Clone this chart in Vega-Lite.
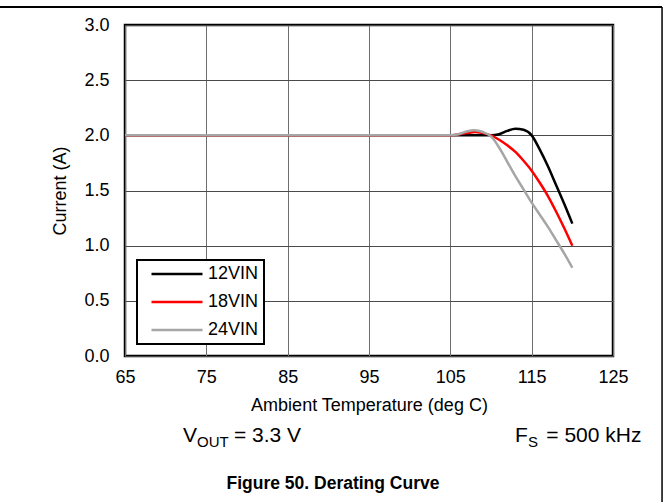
{
  "$schema": "https://vega.github.io/schema/vega-lite/v6.json",
  "width": 488,
  "height": 331,
  "autosize": {"type": "none"},
  "padding": {"left": 125, "top": 25, "right": 56, "bottom": 146},
  "background": "white",
  "config": {
    "font": "Liberation Sans",
    "view": {"stroke": "#000000", "strokeWidth": 2.5},
    "axis": {"labelFont": "Liberation Sans", "titleFont": "Liberation Sans", "labelColor": "#000", "titleColor": "#000", "titleFontWeight": "normal"},
    "legend": {"strokeWidth": 2}
  },
  "datasets": {
    "curves": [
      {"temp": 65, "current": 2.0, "series": "12VIN"},
      {"temp": 105, "current": 2.0, "series": "12VIN"},
      {"temp": 110, "current": 2.0, "series": "12VIN"},
      {"temp": 111, "current": 2.01, "series": "12VIN"},
      {"temp": 112, "current": 2.04, "series": "12VIN"},
      {"temp": 113, "current": 2.06, "series": "12VIN"},
      {"temp": 114, "current": 2.05, "series": "12VIN"},
      {"temp": 115, "current": 2.0, "series": "12VIN"},
      {"temp": 116, "current": 1.87, "series": "12VIN"},
      {"temp": 117, "current": 1.72, "series": "12VIN"},
      {"temp": 118, "current": 1.55, "series": "12VIN"},
      {"temp": 119, "current": 1.38, "series": "12VIN"},
      {"temp": 120, "current": 1.2, "series": "12VIN"},
      {"temp": 65, "current": 2.0, "series": "18VIN"},
      {"temp": 105, "current": 2.0, "series": "18VIN"},
      {"temp": 106, "current": 2.01, "series": "18VIN"},
      {"temp": 107, "current": 2.02, "series": "18VIN"},
      {"temp": 108, "current": 2.03, "series": "18VIN"},
      {"temp": 109, "current": 2.02, "series": "18VIN"},
      {"temp": 110, "current": 2.0, "series": "18VIN"},
      {"temp": 111, "current": 1.96, "series": "18VIN"},
      {"temp": 112, "current": 1.91, "series": "18VIN"},
      {"temp": 113, "current": 1.85, "series": "18VIN"},
      {"temp": 114, "current": 1.77, "series": "18VIN"},
      {"temp": 115, "current": 1.68, "series": "18VIN"},
      {"temp": 116, "current": 1.57, "series": "18VIN"},
      {"temp": 117, "current": 1.45, "series": "18VIN"},
      {"temp": 118, "current": 1.31, "series": "18VIN"},
      {"temp": 119, "current": 1.16, "series": "18VIN"},
      {"temp": 120, "current": 1.0, "series": "18VIN"},
      {"temp": 65, "current": 2.0, "series": "24VIN"},
      {"temp": 105, "current": 2.0, "series": "24VIN"},
      {"temp": 106, "current": 2.01, "series": "24VIN"},
      {"temp": 107, "current": 2.035, "series": "24VIN"},
      {"temp": 108, "current": 2.045, "series": "24VIN"},
      {"temp": 109, "current": 2.03, "series": "24VIN"},
      {"temp": 110, "current": 1.99, "series": "24VIN"},
      {"temp": 111, "current": 1.89, "series": "24VIN"},
      {"temp": 112, "current": 1.76, "series": "24VIN"},
      {"temp": 113, "current": 1.63, "series": "24VIN"},
      {"temp": 114, "current": 1.51, "series": "24VIN"},
      {"temp": 115, "current": 1.39, "series": "24VIN"},
      {"temp": 116, "current": 1.28, "series": "24VIN"},
      {"temp": 117, "current": 1.17, "series": "24VIN"},
      {"temp": 118, "current": 1.05, "series": "24VIN"},
      {"temp": 119, "current": 0.93, "series": "24VIN"},
      {"temp": 120, "current": 0.8, "series": "24VIN"}
    ]
  },
  "layer": [
    {
      "data": {"name": "curves"},
      "mark": {"type": "line", "interpolate": "monotone", "strokeWidth": 2.5},
      "encoding": {
        "x": {
          "field": "temp", "type": "quantitative",
          "scale": {"domain": [65, 125], "nice": false, "zero": false},
          "axis": {
            "values": [65, 75, 85, 95, 105, 115, 125],
            "title": "Ambient Temperature (deg C)",
            "grid": true, "gridColor": "#6e6e6e", "gridWidth": 1, "gridOpacity": 1,
            "domain": false, "ticks": false, "labelFlush": false,
            "labelFontSize": 18, "labelPadding": 12,
            "titleFontSize": 18, "titlePadding": 10
          }
        },
        "y": {
          "field": "current", "type": "quantitative",
          "scale": {"domain": [0, 3], "nice": false},
          "axis": {
            "values": [0, 0.5, 1, 1.5, 2, 2.5, 3],
            "format": ".1f",
            "title": "Current (A)",
            "grid": true, "gridColor": "#4a4a4a", "gridWidth": 1, "gridOpacity": 1,
            "domain": false, "ticks": false,
            "labelFontSize": 18, "labelPadding": 16,
            "titleFontSize": 18, "titlePadding": 14
          }
        },
        "color": {
          "field": "series", "type": "nominal",
          "scale": {"domain": ["12VIN", "18VIN", "24VIN"], "range": ["#000000", "#ff0000", "#a6a6a6"]},
          "legend": {
            "title": null,
            "orient": "none",
            "legendX": 12,
            "legendY": 235,
            "fillColor": "#ffffff",
            "strokeColor": "#000000",
            "padding": 5,
            "symbolType": "stroke",
            "symbolSize": 2601,
            "symbolStrokeWidth": 2.5,
            "symbolOffset": 8,
            "clipHeight": 18,
            "labelFontSize": 18,
            "labelFont": "Liberation Sans",
            "labelColor": "#000",
            "labelOffset": 4,
            "labelExpr": "datum.label + '\u2007\u2007'",
            "rowPadding": 10
          }
        },
        "order": {"field": "series", "type": "nominal"}
      }
    },
    {
      "data": {"values": [{}]},
      "mark": {"type": "rule", "color": "#000000", "strokeWidth": 2},
      "encoding": {"x": {"datum": 49.63}, "x2": {"datum": 131.03}, "y": {"datum": 3.163}}
    },
    {
      "data": {"values": [{}]},
      "mark": {"type": "rule", "color": "#000000", "strokeWidth": 1.5},
      "encoding": {"x": {"datum": 131.03}, "y": {"datum": 3.163}, "y2": {"datum": -1.33}}
    },
    {
      "data": {"values": [{}]},
      "mark": {"type": "text", "align": "left", "baseline": "alphabetic", "fontSize": 21, "font": "Liberation Sans", "color": "#000"},
      "encoding": {"x": {"datum": 72.13}, "y": {"datum": -0.7795}, "text": {"value": "V"}}
    },
    {
      "data": {"values": [{}]},
      "mark": {"type": "text", "align": "left", "baseline": "alphabetic", "fontSize": 15, "font": "Liberation Sans", "color": "#000"},
      "encoding": {"x": {"datum": 73.85}, "y": {"datum": -0.8248}, "text": {"value": "OUT"}}
    },
    {
      "data": {"values": [{}]},
      "mark": {"type": "text", "align": "left", "baseline": "alphabetic", "fontSize": 21, "font": "Liberation Sans", "color": "#000"},
      "encoding": {"x": {"datum": 78.4}, "y": {"datum": -0.7795}, "text": {"value": "= 3.3 V"}}
    },
    {
      "data": {"values": [{}]},
      "mark": {"type": "text", "align": "left", "baseline": "alphabetic", "fontSize": 21, "font": "Liberation Sans", "color": "#000"},
      "encoding": {"x": {"datum": 112.95}, "y": {"datum": -0.7795}, "text": {"value": "F"}}
    },
    {
      "data": {"values": [{}]},
      "mark": {"type": "text", "align": "left", "baseline": "alphabetic", "fontSize": 15, "font": "Liberation Sans", "color": "#000"},
      "encoding": {"x": {"datum": 114.55}, "y": {"datum": -0.8248}, "text": {"value": "S"}}
    },
    {
      "data": {"values": [{}]},
      "mark": {"type": "text", "align": "left", "baseline": "alphabetic", "fontSize": 21, "font": "Liberation Sans", "color": "#000"},
      "encoding": {"x": {"datum": 116.8}, "y": {"datum": -0.7795}, "text": {"value": "= 500 kHz"}}
    },
    {
      "data": {"values": [{}]},
      "mark": {"type": "text", "align": "center", "baseline": "alphabetic", "fontSize": 17.5, "fontWeight": "bold", "font": "Liberation Sans", "color": "#000"},
      "encoding": {"x": {"datum": 90.57}, "y": {"datum": -1.2055}, "text": {"value": "Figure 50. Derating Curve"}}
    }
  ]
}
